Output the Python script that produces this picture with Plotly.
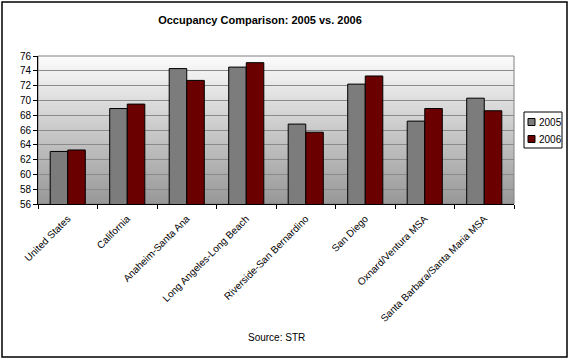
import plotly.graph_objects as go

categories = ["United States", "California", "Anaheim-Santa Ana", "Long Angeles-Long Beach",
              "Riverside-San Bernardino", "San Diego", "Oxnard/Ventura MSA",
              "Santa Barbara/Santa Maria MSA"]
occ_2005 = [63.1, 68.9, 74.3, 74.5, 66.8, 72.2, 67.2, 70.3]
occ_2006 = [63.3, 69.5, 72.7, 75.1, 65.7, 73.3, 68.9, 68.6]
series_names = ["2005", "2006"]
y_ticks = list(range(56, 77, 2))

FONT = "Arial, Liberation Sans, sans-serif"
COL_2005 = "#7c7c7c"
COL_2006 = "#6a0000"
W, H = 570, 362
L, R, T, B = 38, 514, 56, 204
pw, ph = R - L, B - T

def px_x(x):
    return (x - L) / pw

def px_y(y):
    return (B - y) / ph

fig = go.Figure()
fig.add_trace(go.Bar(x=categories, y=occ_2005, name=series_names[0],
                     marker=dict(color=COL_2005, line=dict(color="black", width=1))))
fig.add_trace(go.Bar(x=categories, y=occ_2006, name=series_names[1],
                     marker=dict(color=COL_2006, line=dict(color="black", width=1))))

shapes = []
# gradient background of plot area
n = 60
for i in range(n):
    t = i / (n - 1)
    v = int(round(0x98 + (0xfb - 0x98) * t))
    col = f"rgb({v},{v},{v})"
    shapes.append(dict(type="rect", xref="paper", yref="paper", x0=0, x1=1,
                       y0=i / n, y1=min(1, (i + 2) / n), fillcolor=col, line=dict(width=0),
                       layer="below"))
# plot border (top/right gray)
shapes.append(dict(type="rect", xref="paper", yref="paper", x0=0, x1=1, y0=0, y1=1,
                   line=dict(color="#808080", width=1), layer="below"))
# outer chart border
shapes.append(dict(type="rect", xref="paper", yref="paper",
                   x0=px_x(2), x1=px_x(567), y0=px_y(357), y1=px_y(2),
                   line=dict(color="black", width=1.5)))
# legend box and swatches
shapes.append(dict(type="rect", xref="paper", yref="paper",
                   x0=px_x(524), x1=px_x(562), y0=px_y(148), y1=px_y(112),
                   line=dict(color="black", width=1), fillcolor="white"))
legend_y = [122, 139]
for name, col, yy in zip(series_names, [COL_2005, COL_2006], legend_y):
    shapes.append(dict(type="rect", xref="paper", yref="paper",
                       x0=px_x(528), x1=px_x(535), y0=px_y(yy + 3.5), y1=px_y(yy - 3.5),
                       line=dict(color="black", width=1), fillcolor=col))

annotations = [dict(text="Source: STR", xref="paper", yref="paper",
                    x=px_x(276), y=px_y(337), xanchor="center", yanchor="middle",
                    showarrow=False, font=dict(family=FONT, size=10, color="black"))]
for name, yy in zip(series_names, legend_y):
    annotations.append(dict(text=name, xref="paper", yref="paper",
                            x=px_x(537), y=px_y(yy), xanchor="left", yanchor="middle",
                            showarrow=False, font=dict(family=FONT, size=10, color="black")))

fig.update_layout(
    width=W, height=H,
    margin=dict(l=L, r=W - R, t=T, b=H - B, autoexpand=False),
    paper_bgcolor="white", plot_bgcolor="rgba(0,0,0,0)",
    barmode="group", bargap=0.41, bargroupgap=0,
    font=dict(family=FONT, size=10, color="black"),
    title=dict(text="<b>Occupancy Comparison: 2005 vs. 2006</b>",
               font=dict(family=FONT, size=11, color="black"),
               x=px_x(260), xref="paper", xanchor="center",
               y=1 - 20 / H, yanchor="middle"),
    showlegend=False,
    shapes=shapes,
    annotations=annotations,
    xaxis=dict(tickangle=-45, ticks="outside", tickson="boundaries", ticklen=4,
               ticklabelstandoff=4,
               tickcolor="black", showline=True, linecolor="black", linewidth=1,
               showgrid=False, tickfont=dict(family=FONT, size=10, color="black")),
    yaxis=dict(range=[56, 76], tickvals=y_ticks, ticks="outside", ticklen=4,
               tickcolor="black", showline=True, linecolor="black", linewidth=1,
               showgrid=True, gridcolor="#8a8a8a", gridwidth=1, zeroline=False,
               tickfont=dict(family=FONT, size=10, color="black")),
)

fig.write_html("out.html", config={"displayModeBar": False},
               post_script="document.body.style.margin='0';document.body.style.padding='0';")
